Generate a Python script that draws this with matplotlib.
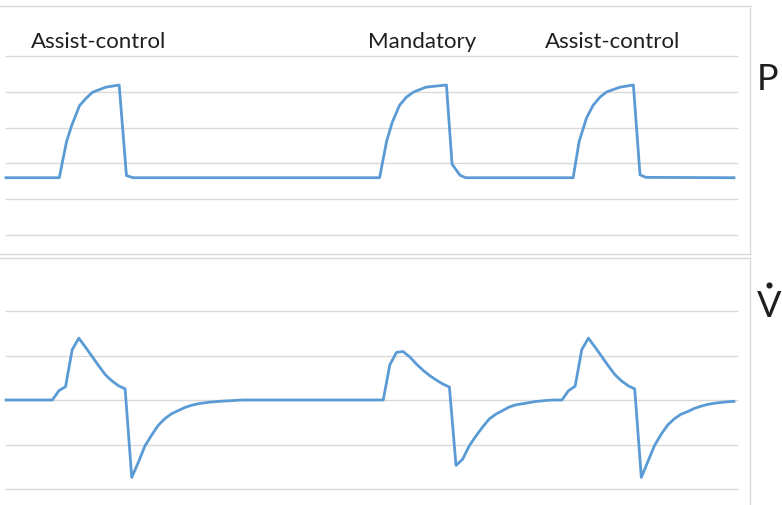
import matplotlib
matplotlib.use("Agg")
import matplotlib.pyplot as plt
from matplotlib.lines import Line2D

# ---------------- data (x in sample units) ----------------
flow_values = [
    0, 0, 0, 0, 0, 0, 0, 0, 0.21, 0.30,
    1.13, 1.39, 1.19, 0.98, 0.77, 0.57, 0.43, 0.32, 0.25, -1.74,
    -1.40, -1.03, -0.79, -0.57, -0.42, -0.31, -0.24, -0.17, -0.12, -0.085,
    -0.063, -0.045, -0.034, -0.022, -0.016, -0.005, 0, 0, 0, 0,
    0, 0, 0, 0, 0, 0, 0, 0, 0, 0,
    0, 0, 0, 0, 0, 0, 0, 0, 0.79, 1.07,
    1.09, 0.97, 0.81, 0.67, 0.55, 0.45, 0.36, 0.29, -1.47, -1.33,
    -1.03, -0.81, -0.61, -0.43, -0.32, -0.24, -0.16, -0.11, -0.085, -0.06,
    -0.034, -0.02, -0.005, 0, 0, 0.21, 0.31, 1.13, 1.39, 1.19,
    0.98, 0.77, 0.57, 0.43, 0.32, 0.25, -1.74, -1.38, -1.02, -0.77,
    -0.56, -0.42, -0.32, -0.26, -0.19, -0.14, -0.10, -0.075, -0.055, -0.04,
    -0.03,
]
flow_t = list(range(len(flow_values)))

pressure_t = [
    0, 8.05, 9.15, 9.95, 11.1, 12.1, 13.1, 15.1, 17.1, 18.2, 19.2,
    56.45, 57.5, 58.35, 59.45, 60.5, 61.55, 63.45, 66.55, 67.4, 68.6, 69.45,
    85.7, 86.6, 87.7, 88.7, 89.8, 90.8, 92.8, 94.8, 95.8, 96.7, 110,
]
pressure_values = [
    1.60, 1.60, 2.61, 3.07, 3.61, 3.82, 3.99, 4.13, 4.19, 1.66, 1.60,
    1.60, 2.61, 3.14, 3.62, 3.85, 3.99, 4.13, 4.19, 1.98, 1.67, 1.60,
    1.60, 2.61, 3.26, 3.62, 3.86, 4.00, 4.13, 4.19, 1.68, 1.61, 1.60,
]

labels = ["Assist-control", "Mandatory", "Assist-control"]
label_x_px = [98.3, 422.5, 612.7]

# ---------------- styling ----------------
W, H = 782, 505
LINE = "#5B9BD5"
GRID = "#D9D9D9"
TXT = "#1f1f1f"
FONT = ["Lato", "DejaVu Sans"]

fig = plt.figure(figsize=(W / 100, H / 100), dpi=100)

def fx(px):
    return px / W

def fy(py):
    return 1 - py / H

left, right = 6, 737
xmax = (right - left) / 6.618

ax1 = fig.add_axes([fx(left), fy(235), fx(right - left), (235 - 56) / H])
ax2 = fig.add_axes([fx(left), fy(489), fx(right - left), (489 - 311) / H])

for ax, lim, ticks in [(ax1, (0, 5), range(0, 6)), (ax2, (-2, 2), range(-2, 3))]:
    ax.set_xlim(0, xmax)
    ax.set_ylim(*lim)
    ax.set_yticks(list(ticks))
    ax.set_xticks([])
    ax.grid(axis="y", color=GRID, lw=1.0)
    ax.set_axisbelow(True)
    ax.tick_params(left=False, labelleft=False, bottom=False, labelbottom=False)
    for s in ax.spines.values():
        s.set_visible(False)
    ax.patch.set_alpha(0)
    for gl in ax.get_ygridlines():
        gl.set_clip_on(False)

ax1.plot(pressure_t, pressure_values, color=LINE, lw=2.0,
         solid_joinstyle="round", clip_on=False)
ax2.plot(flow_t, flow_values, color=LINE, lw=2.0,
         solid_joinstyle="round", clip_on=False)

# chart-area borders
bc = "#D9D9D9"
def hline(y, x0, x1):
    fig.add_artist(Line2D([fx(x0), fx(x1)], [fy(y), fy(y)], color=bc, lw=1.0,
                          transform=fig.transFigure))
def vline(x, y0, y1):
    fig.add_artist(Line2D([fx(x), fx(x)], [fy(y0), fy(y1)], color=bc, lw=1.0,
                          transform=fig.transFigure))

hline(5.5, -2, 749.5)
hline(254, -2, 749.5)
vline(749.5, 5.5, 254)
hline(257.5, -2, 749.5)
vline(749.5, 257.5, 510)

# labels
for lab, x in zip(labels, label_x_px):
    fig.text(fx(x), fy(48.3), lab, ha="center", va="baseline",
             fontsize=16, color=TXT, family=FONT)

fig.text(fx(767.5), fy(90), "P", ha="center", va="baseline",
         fontsize=26, color=TXT, family=FONT)
fig.text(fx(769), fy(317), "V", ha="center", va="baseline",
         fontsize=26, color=TXT, family=FONT)
fig.add_artist(Line2D([fx(768.5)], [fy(285)], marker="o", markersize=3.4,
                      color=TXT, transform=fig.transFigure))

fig.savefig("out.png", dpi=100)
